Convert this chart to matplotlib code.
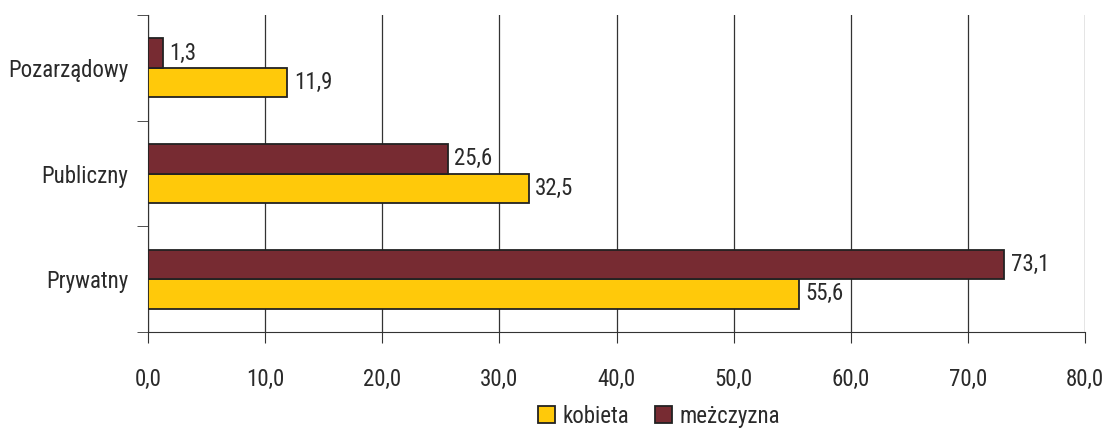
import numpy as np
import matplotlib.pyplot as plt
from matplotlib import font_manager

# pick a narrow sans if one is around
names = {f.name for f in font_manager.fontManager.ttflist}
family = [n for n in ["Liberation Sans Narrow", "DejaVu Sans Condensed", "Roboto Condensed"] if n in names]
plt.rcParams['font.family'] = family + ['DejaVu Sans']

categories = ["Pozarządowy", "Publiczny", "Prywatny"]
kobieta = [11.9, 32.5, 55.6]
mezczyzna = [1.3, 25.6, 73.1]
series_names = ["kobieta", "meżczyzna"]

c_k = "#FFC90A"
c_m = "#772B32"
txt = "#2a2a2a"

fig = plt.figure(figsize=(11.02, 4.29), dpi=100)
ax = fig.add_axes([0.1343, 0.2261, 0.8503, 0.7389])

y = np.arange(len(categories))
h = 0.28
bk = ax.barh(y + h / 2, kobieta, height=h, color=c_k, edgecolor="#222222", linewidth=1.3, zorder=3, label=series_names[0])
bm = ax.barh(y - h / 2, mezczyzna, height=h, color=c_m, edgecolor="#222222", linewidth=1.3, zorder=3, label=series_names[1])

for bars, vals in ((bk, kobieta), (bm, mezczyzna)):
    for b, v in zip(bars, vals):
        ax.text(v + 0.55, b.get_y() + b.get_height() / 2, f"{v:.1f}".replace(".", ","),
                va="center", ha="left", fontsize=16.5, color=txt)

ax.set_ylim(2.5, -0.5)
ax.set_xlim(0, 80)
ax.set_xticks(np.arange(0, 81, 10))
ax.set_xticklabels([f"{v:.1f}".replace(".", ",") for v in np.arange(0, 81, 10)], fontsize=16.5, color=txt)
ax.set_yticks(y)
ax.set_yticklabels(categories, fontsize=16.5, color=txt)
ax.set_yticks(np.arange(-0.5, 3, 1), minor=True)
ax.tick_params(axis="y", which="major", length=0, pad=14)
ax.tick_params(axis="y", which="minor", length=8, direction="out", color="#333333")
ax.tick_params(axis="x", length=8, direction="out", color="#333333", pad=18)

ax.grid(axis="x", color="#333333", linewidth=0.9, zorder=0)
for s in ("top", "right"):
    ax.spines[s].set_visible(False)
for s in ("left", "bottom"):
    ax.spines[s].set_color("#333333")

fig.legend(handles=[bk, bm], labels=series_names, loc="lower center", bbox_to_anchor=(0.598, -0.045),
           ncol=2, frameon=False, fontsize=16.5, handlelength=0.75, handleheight=0.75,
           handletextpad=0.35, columnspacing=1.1, labelcolor=txt)

fig.savefig("out.png", dpi=100)
